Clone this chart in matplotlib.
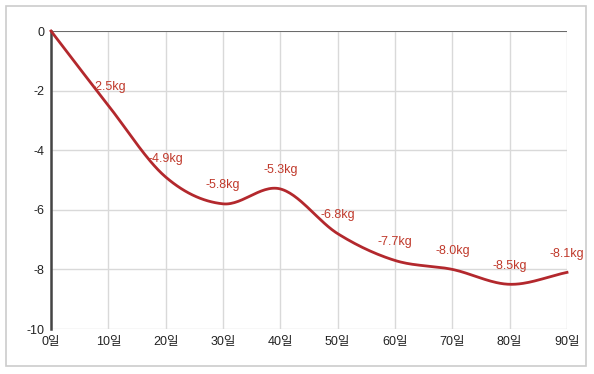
import matplotlib

matplotlib.use("Agg")
import matplotlib.pyplot as plt
import numpy as np
from matplotlib.patches import Rectangle

plt.rcParams["font.family"] = ["Liberation Sans", "Noto Sans CJK KR", "DejaVu Sans"]

days = [0, 10, 20, 30, 40, 50, 60, 70, 80, 90]
change_kg = [0, -2.5, -4.9, -5.8, -5.3, -6.8, -7.7, -8.0, -8.5, -8.1]
y_ticks = [0, -2, -4, -6, -8, -10]

LINE = "#b3282d"
LABEL = "#c0392b"


def smooth(x, y, n=30):
    # cubic Hermite with finite-difference tangents (smooth curve look)
    x = np.asarray(x, float)
    y = np.asarray(y, float)
    m = np.gradient(y, x)
    xs, ys = [], []
    for i in range(len(x) - 1):
        h = x[i + 1] - x[i]
        t = np.linspace(0, 1, n, endpoint=False)
        h00 = 2 * t**3 - 3 * t**2 + 1
        h10 = t**3 - 2 * t**2 + t
        h01 = -2 * t**3 + 3 * t**2
        h11 = t**3 - t**2
        xs.append(x[i] + t * h)
        ys.append(h00 * y[i] + h10 * h * m[i] + h01 * y[i + 1] + h11 * h * m[i + 1])
    xs.append([x[-1]])
    ys.append([y[-1]])
    return np.concatenate(xs), np.concatenate(ys)


fig = plt.figure(figsize=(5.94, 3.74), dpi=100)
fig.patches.append(Rectangle((6 / 594, 8 / 374), 580 / 594, 360 / 374,
                             transform=fig.transFigure, fill=False,
                             edgecolor="#cccccc", linewidth=1.2))
ax = fig.add_axes([51 / 594, 45 / 374, 516 / 594, 298 / 374])

sx, sy = smooth(days, change_kg)
ax.plot(sx, sy, color=LINE, linewidth=2.0, clip_on=False, zorder=3)

# the starting point (0일) has no label
for d, v in zip(days[1:], change_kg[1:]):
    ax.annotate(f"{v:.1f}kg", (d, v), xytext=(0, 9), textcoords="offset points",
                ha="center", va="bottom", fontsize=9, color=LABEL, zorder=4)

ax.set_xlim(0, 90)
ax.set_ylim(-10, 0)
ax.set_xticks(days)
ax.set_xticklabels([f"{d}일" for d in days])
ax.set_yticks(y_ticks)
ax.set_yticklabels([str(t) for t in y_ticks])
ax.tick_params(length=0, labelsize=9, colors="#222222", pad=5)
ax.grid(True, color="#d9d9d9", linewidth=1.0)
ax.set_axisbelow(True)
for side in ["top", "right", "bottom"]:
    ax.spines[side].set_visible(False)
ax.spines["left"].set_color("#444444")
ax.spines["left"].set_linewidth(1.8)
ax.axhline(0, color="#555555", linewidth=1.2, zorder=2)

fig.savefig("out.png", dpi=100)
